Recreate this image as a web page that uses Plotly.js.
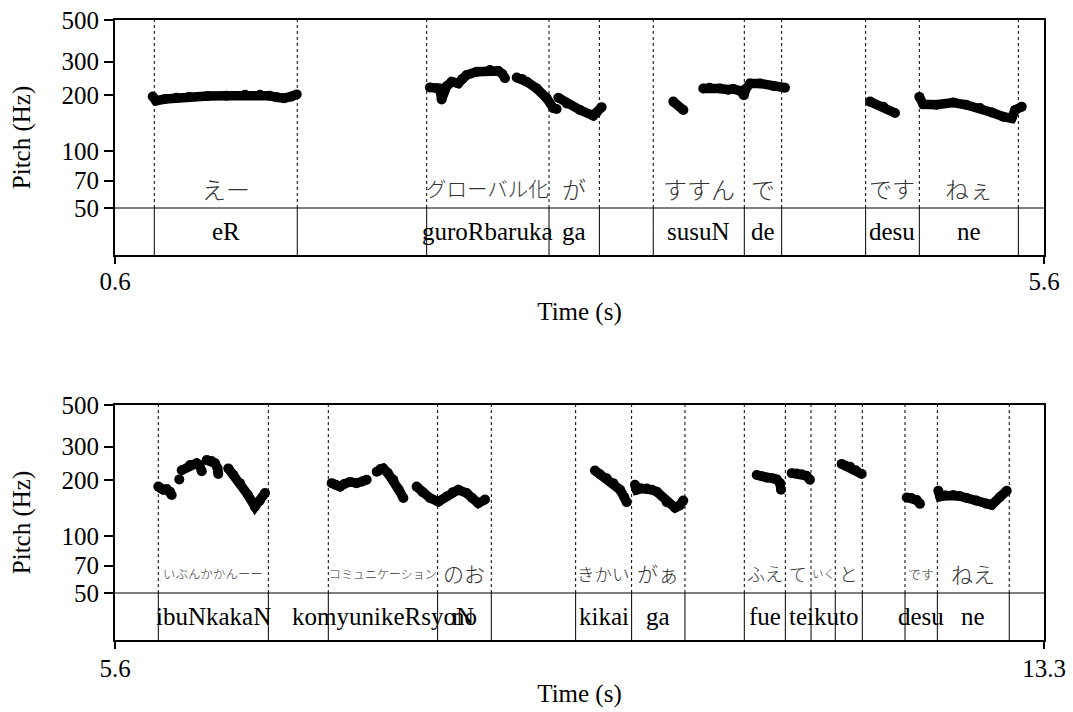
<!DOCTYPE html>
<html>
<head>
<meta charset="utf-8">
<script src="https://cdn.plot.ly/plotly-3.0.1.min.js"></script>
<style>html,body{margin:0;padding:0;background:#fff;}#chart{width:1073px;height:712px;}</style>
</head>
<body>
<div id="chart"></div>
<script>
// ---------- Pitch contours (null = unvoiced gap) ----------
const topTime = [
  0.803, 0.82, 0.87, 0.93, 1.0, 1.1, 1.2, 1.3, 1.38, 1.43, 1.47, 1.51, 1.55, 1.578, null,
  2.295, 2.33, 2.349, 2.358, 2.385, 2.412, 2.448, 2.47, 2.493, 2.547, 2.618, 2.663, 2.685, 2.699, null,
  2.762, 2.79, 2.816, 2.870, 2.923, 2.959, 2.977, null,
  2.986, 3.031, 3.103, 3.174, 3.19, 3.219, null,
  3.605, 3.659, null,
  3.766, 3.80, 3.856, 3.90, 3.928, 3.964, 3.985, 3.995, 4.018, 4.072, 4.143, 4.206, null,
  4.664, 4.735, 4.798, null,
  4.929, 4.950, 5.022, 5.112, 5.18, 5.256, 5.32, 5.381, 5.426, 5.444, 5.480
];
const topPitch = [
  196, 186, 190, 193, 195, 197, 198, 200, 200, 198, 194, 192, 196, 201, null,
  219, 217, 216, 189, 222, 235, 230, 243, 255, 265, 271, 268, 258, 245, null,
  247, 243, 235, 216, 192, 170, 168, null,
  193, 180, 166, 155, 160, 172, null,
  184, 166, null,
  216, 218, 216, 213, 215, 210, 199, 215, 230, 230, 223, 218, null,
  184, 173, 160, null,
  195, 178, 177, 182, 177, 170, 161, 153, 150, 166, 173
];
const bottomTime = [
  5.959, 5.98, 6.0, 6.03, 6.056, 6.070, null,
  6.133, null,
  6.153, 6.222, 6.277, 6.30, 6.319, null,
  6.360, 6.40, 6.429, 6.45, 6.456, null,
  6.539, 6.58, 6.636, 6.70, 6.760, 6.80, 6.843, null,
  7.396, 7.43, 7.465, 7.50, 7.548, 7.603, 7.65, 7.686, null,
  7.769, 7.80, 7.824, 7.86, 7.907, 7.95, 7.990, null,
  8.10, 8.15, 8.211, 8.28, 8.349, 8.40, 8.445, 8.515, 8.56, 8.611, 8.667, null,
  9.578, 9.62, 9.675, 9.73, 9.786, 9.82, 9.841, null,
  9.910, 9.924, 9.96, 10.007, 10.05, 10.090, 10.173, 10.242, 10.28, 10.310, null,
  10.919, 10.96, 11.002, 11.05, 11.084, 11.112, 11.120, null,
  11.209, 11.25, 11.292, 11.33, 11.360, null,
  11.623, 11.66, 11.692, 11.74, 11.789, null,
  12.162, 12.20, 12.245, 12.272, null,
  12.424, 12.438, 12.48, 12.548, 12.60, 12.659, 12.74, 12.825, 12.866, 12.935, 12.991
];
const bottomPitch = [
  184, 180, 177, 178, 173, 166, null,
  201, null,
  225, 240, 245, 240, 222, null,
  255, 252, 245, 230, 215, null,
  230, 213, 192, 167, 144, 155, 170, null,
  192, 188, 184, 190, 195, 192, 196, 200, null,
  221, 228, 230, 218, 200, 178, 160, null,
  184, 172, 160, 153, 163, 172, 177, 170, 160, 150, 157, null,
  224, 214, 204, 192, 177, 162, 152, null,
  188, 177, 180, 180, 177, 173, 152, 142, 146, 155, null,
  212, 209, 205, 204, 201, 192, 177, null,
  217, 216, 214, 210, 200, null,
  243, 237, 235, 225, 215, null,
  161, 160, 156, 149, null,
  175, 163, 165, 166, 164, 160, 155, 149, 147, 162, 175
];

// ---------- Text tier ----------
const topBounds = [0.8115, 1.581, 2.2775, 2.936, 3.207, 3.497, 3.987, 4.188, 4.640, 4.929, 5.462];
const topStart  = [0.8115, 2.2775, 2.936, 3.497, 3.987, 4.640, 4.929];
const topEnd    = [1.581, 2.936, 3.207, 3.987, 4.188, 4.929, 5.462];
const topRomaji = ['eR', 'guroRbaruka', 'ga', 'susuN', 'de', 'desu', 'ne'];
const topKana   = ['えー', 'グローバル化', 'が', 'すすん', 'で', 'です', 'ねぇ'];

const bottomBounds = [5.959, 6.871, 7.368, 8.274, 8.719, 9.418, 9.882, 10.324, 10.816, 11.156, 11.369, 11.570, 11.794, 12.148, 12.416, 13.012];
const bottomStart  = [5.959, 7.368, 8.274, 9.418, 9.882, 10.816, 11.156, 11.369, 11.570, 12.148, 12.416];
const bottomEnd    = [6.871, 8.274, 8.719, 9.882, 10.324, 11.156, 11.369, 11.570, 11.794, 12.416, 13.012];
const bottomRomaji = ['ibuNkakaN', 'komyunikeRsyoN', 'no', 'kikai', 'ga', 'fue', 'te', 'iku', 'to', 'desu', 'ne'];
const bottomKana   = ['いぶんかかんーー', 'コミュニケーション', 'のお', 'きかい', 'がぁ', 'ふえ', 'て', 'いく', 'と', 'です', 'ねえ'];

const timeTicksTop = [0.6, 5.6];
const timeTicksBottom = [5.6, 13.3];
const pitchTicks = [50, 70, 100, 200, 300, 500];

// ---------- styles (kept separate from data) ----------
const topKanaSize = [24, 20.5, 24, 24, 24, 23, 24];
const bottomKanaSize = [12.5, 12, 21, 17.5, 21, 18, 17.5, 11.5, 19, 13, 22];
const SERIF = 'Liberation Serif, Times New Roman, serif';
const CJK = 'Noto Sans CJK JP, sans-serif';
const TIER_FRAC = 0.2;     // fraction of the panel height used by the text tier
const KANA_FRAC = 0.285;
const ROMAJI_FRAC = 0.1;

function pitchTrace(x, y, xa, ya) {
  return {
    x: x, y: y, xaxis: xa, yaxis: ya, type: 'scatter', mode: 'lines+markers',
    connectgaps: false, hoverinfo: 'skip',
    line: {color: 'black', width: 9.5},
    marker: {color: 'black', size: 10}
  };
}

const shapes = [];
const annotations = [];
function addTier(bounds, starts, ends, romaji, kana, kanaSize, xr, yr) {
  shapes.push({type: 'line', xref: xr + ' domain', yref: yr + ' domain', x0: 0, x1: 1, y0: TIER_FRAC, y1: TIER_FRAC,
               line: {color: 'black', width: 1}});
  bounds.forEach(b => {
    shapes.push({type: 'line', xref: xr, yref: yr + ' domain', x0: b, x1: b, y0: 0, y1: TIER_FRAC,
                 line: {color: 'black', width: 1}});
    shapes.push({type: 'line', xref: xr, yref: yr + ' domain', x0: b, x1: b, y0: TIER_FRAC, y1: 1,
                 line: {color: 'black', width: 1, dash: 'dot'}});
  });
  starts.forEach((s, i) => {
    const mid = (s + ends[i]) / 2;
    annotations.push({xref: xr, yref: yr + ' domain', x: mid, y: ROMAJI_FRAC, text: romaji[i],
                      showarrow: false, xanchor: 'center', yanchor: 'middle',
                      font: {family: SERIF, size: 25, color: 'black'}});
    annotations.push({xref: xr, yref: yr + ' domain', x: mid, y: KANA_FRAC, text: kana[i],
                      showarrow: false, xanchor: 'center', yanchor: 'middle',
                      font: {family: CJK, size: kanaSize[i], color: '#333', weight: 300}});
  });
}
addTier(topBounds, topStart, topEnd, topRomaji, topKana, topKanaSize, 'x', 'y');
addTier(bottomBounds, bottomStart, bottomEnd, bottomRomaji, bottomKana, bottomKanaSize, 'x2', 'y2');

const yRange = [Math.log10(50) - 0.25, Math.log10(500)];
function xAxis(range, ticks, anchor, titleGap, labelGap) {
  return {
    range: range, anchor: anchor, domain: [0, 1], tickmode: 'array', tickvals: ticks,
    ticktext: ticks.map(v => v.toFixed(1)), ticks: 'outside', ticklen: 7, tickwidth: 2, tickcolor: 'black',
    ticklabelstandoff: labelGap,
    showline: true, linewidth: 2, linecolor: 'black', mirror: true, showgrid: false, zeroline: false,
    tickfont: {family: SERIF, size: 25, color: 'black'},
    title: {text: 'Time (s)', font: {family: SERIF, size: 25, color: 'black'}, standoff: titleGap}
  };
}
function yAxis(domain, anchor) {
  return {
    type: 'log', range: yRange, domain: domain, anchor: anchor, tickmode: 'array', tickvals: pitchTicks,
    ticktext: pitchTicks.map(String), ticks: 'outside', ticklen: 9, tickwidth: 2, tickcolor: 'black',
    showline: true, linewidth: 2, linecolor: 'black', mirror: true, showgrid: false, zeroline: false,
    tickfont: {family: SERIF, size: 25, color: 'black'},
    title: {text: 'Pitch (Hz)', font: {family: SERIF, size: 25, color: 'black'}, standoff: 24}
  };
}

const panelFrac = 235 / 620;
const layout = {
  width: 1073, height: 712,
  margin: {l: 115, r: 29, t: 20, b: 72, pad: 0},
  paper_bgcolor: 'white', plot_bgcolor: 'white', showlegend: false,
  font: {family: SERIF, size: 25, color: 'black'},
  xaxis: xAxis([0.6, 5.6], timeTicksTop, 'y', 8, -4),
  yaxis: yAxis([1 - panelFrac, 1], 'x'),
  xaxis2: xAxis([5.6, 13.3], timeTicksBottom, 'y2', 3, -2),
  yaxis2: yAxis([0, panelFrac], 'x2'),
  shapes: shapes, annotations: annotations
};

Plotly.newPlot('chart', [
  pitchTrace(topTime, topPitch, 'x', 'y'),
  pitchTrace(bottomTime, bottomPitch, 'x2', 'y2')
], layout, {displayModeBar: false, staticPlot: true});
</script>
</body>
</html>
